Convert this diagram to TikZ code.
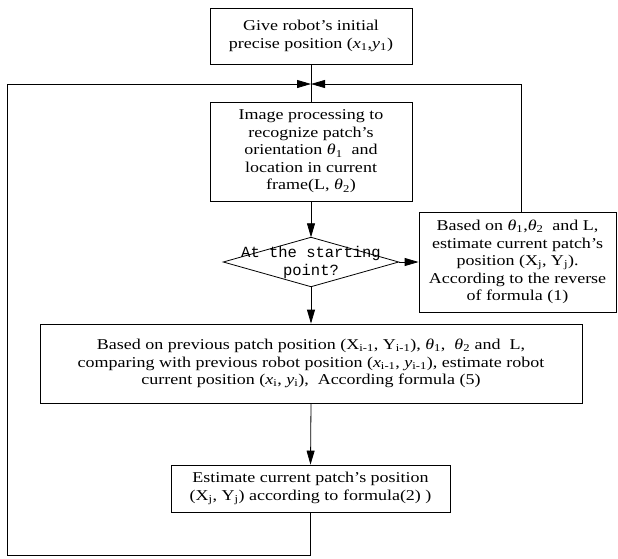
\documentclass[tikz,border=0pt]{standalone}
\usepackage{fontspec}
\setmainfont{Liberation Serif}[FakeStretch=1.2]
\newfontfamily\monofam{Liberation Mono}
\usetikzlibrary{arrows.meta}
\newcommand{\thsub}[1]{\textit{θ}\textsubscript{#1}}
\newcommand{\vsub}[2]{#1\textsubscript{#2}}
\tikzset{
  box/.style={draw, line width=0.8pt, inner sep=0pt, align=center,
    font=\fontsize{15}{17.5}\selectfont},
  conn/.style={line width=0.8pt},
  arr/.style={line width=0.8pt, -{Triangle[length=14pt,width=8pt]}}
}
\begin{document}
\begin{tikzpicture}[x=1pt,y=-1pt]
\useasboundingbox (0,0) rectangle (618,558);
\node[box, minimum width=202pt, minimum height=56pt] (b1) at (311,36)
  {Give robot's initial\\precise position (\vsub{\textit{x}}{1},\vsub{\textit{y}}{1})};
\node[box, minimum width=202pt, minimum height=99pt] (b2) at (311,151.5)
  {Image processing to\\recognize patch's\\orientation \thsub{1}\ \ and\\location in current\\frame(L, \thsub{2})};
\node[inner sep=0pt, minimum width=175pt, minimum height=49pt, align=center,
  font=\monofam\fontsize{15.5}{18}\selectfont] (d) at (311,262)
  {At the starting\\point?};
\draw[conn] (d.north) -- (d.east) -- (d.south) -- (d.west) -- cycle;
\node[box, minimum width=197pt, minimum height=100pt] (rb) at (517.5,262)
  {Based on \thsub{1},\thsub{2}\ \ and L,\\estimate current patch's\\position (\vsub{X}{j}, \vsub{Y}{j}).\\According to the reverse\\of formula (1)};
\node[box, minimum width=542pt, minimum height=79pt] (mb) at (311,363.5)
  {Based on previous patch position (\vsub{X}{i-1}, \vsub{Y}{i-1}), \thsub{1}, \ \thsub{2} and \ L,\\
   comparing with previous robot position (\vsub{\textit{x}}{i-1}, \vsub{\textit{y}}{i-1}), estimate robot\\
   current position (\vsub{\textit{x}}{i}, \vsub{\textit{y}}{i}), \ According formula (5)};
\node[box, minimum width=279pt, minimum height=47pt] (bb) at (310.5,488.5)
  {Estimate current patch's position\\(\vsub{X}{j}, \vsub{Y}{j}) according to formula(2) )};
\coordinate (m) at (311,84);
\coordinate (ltop) at (7,84);
\coordinate (lbot) at (7,555);
\coordinate (rtop) at (521,84);
\coordinate (bbot) at (310.5,555);
\draw[conn] (b1.south) -- (b2.north);
\draw[arr] (b2.south) -- (d.north);
\draw[arr] (d.east) -- (rb.west);
\draw[arr] (d.south) -- (mb.north);
\draw[arr] (mb.south) -- (bb.north);
\draw[arr] (bb.south) -- (bbot) -- (lbot) -- (ltop) -- (m);
\draw[arr] (rb.north -| rtop) -- (rtop) -- (m);
\end{tikzpicture}
\end{document}
